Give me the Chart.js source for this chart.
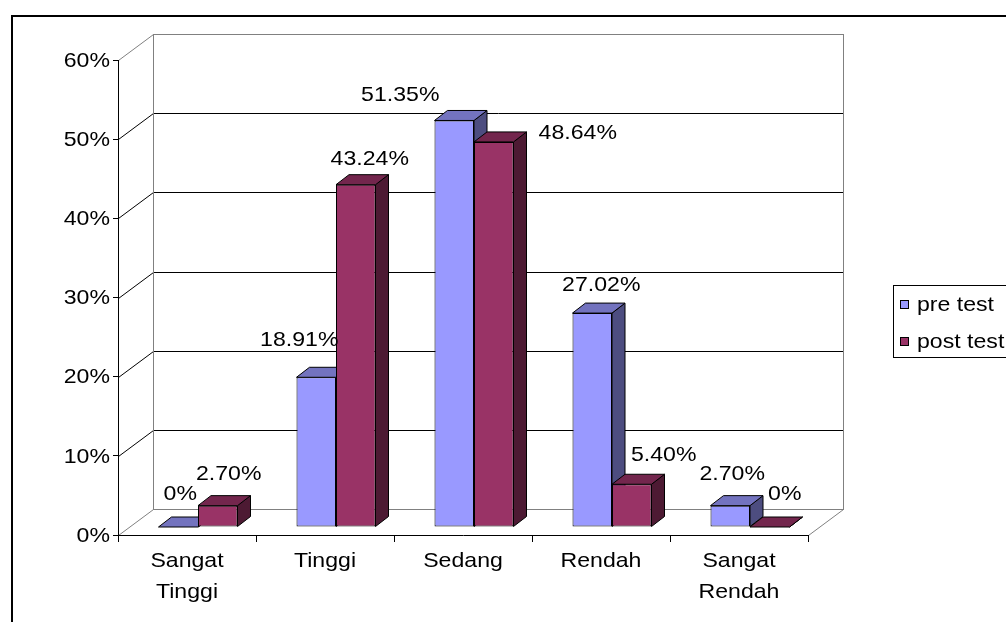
<!DOCTYPE html>
<html>
<head>
<meta charset="utf-8">
<script src="https://cdn.jsdelivr.net/npm/chart.js@4.4.1/dist/chart.umd.min.js"></script>
<style>
  html, body { margin: 0; padding: 0; background: #fff; overflow: hidden; }
  canvas { display: block; }
</style>
</head>
<body>
<canvas id="c" width="1006" height="622"></canvas>
<script>
// ---- data ----
const categories = [['Sangat', 'Tinggi'], 'Tinggi', 'Sedang', 'Rendah', ['Sangat', 'Rendah']];
const seriesNames = ['pre test', 'post test'];
const preTest = [0, 18.91, 51.35, 27.02, 2.70];
const postTest = [2.70, 43.24, 48.64, 5.40, 0];
const yTicks = [0, 10, 20, 30, 40, 50, 60];

// ---- look ----
const FONT = '"Liberation Sans", Arial, sans-serif';
const FONT_SIZE = 21;
const TEXT_STRETCH = 1.1;                // the lettering is drawn slightly wide
const seriesColors = [
  { front: '#9999FF', top: '#7373BF', side: '#4D4D80' },
  { front: '#993366', top: '#73264D', side: '#4D1A33' }
];
const WALL = { dx: 35, dy: -26 };       // depth of the back wall from the front axis plane
const BAR_PLANE = { dx: 11, dy: -8 };   // bars stand a little behind the front axis plane
const BAR_DEPTH = { dx: 13, dy: -10 };  // thickness of each 3-D bar
// where each value label sits, relative to the top-front centre of its bar
const labelOffsets = [
  [[2, -33], [-17, -37], [-54, -25], [9, -28], [2, -31]],
  [[11, -31], [14, -25], [84, -9], [32, -29], [15, -33]]
];

const pct = v => (v === 0 ? '0' : v.toFixed(2)) + '%';

function poly(ctx, pts, fill) {
  ctx.beginPath();
  ctx.moveTo(pts[0][0], pts[0][1]);
  for (let i = 1; i < pts.length; i++) ctx.lineTo(pts[i][0], pts[i][1]);
  ctx.closePath();
  ctx.fillStyle = fill;
  ctx.fill();
  ctx.stroke();
}

function wideText(ctx, str, x, y, align) {
  ctx.save();
  ctx.translate(x, y);
  ctx.scale(TEXT_STRETCH, 1);
  ctx.textAlign = align;
  ctx.fillText(str, 0, 0);
  ctx.restore();
}

// back wall, side wall and floor behind the bars
const wallsPlugin = {
  id: 'walls',
  beforeDraw(chart) {
    const { ctx, chartArea: a, scales: { y } } = chart;
    const L = a.left + 0.5, R = a.right + 0.5, T = Math.round(a.top) + 0.5, B = Math.round(a.bottom) + 0.5;
    ctx.save();
    ctx.lineWidth = 1;
    ctx.strokeStyle = '#000';
    yTicks.forEach(v => {
      if (v <= y.min || v >= y.max) return;
      const py = Math.round(y.getPixelForValue(v)) + 0.5;
      ctx.beginPath();
      ctx.moveTo(L, py);
      ctx.lineTo(L + WALL.dx, py + WALL.dy);
      ctx.lineTo(R + WALL.dx, py + WALL.dy);
      ctx.stroke();
    });
    ctx.strokeStyle = '#808080';
    ctx.strokeRect(L + WALL.dx, T + WALL.dy, R - L, B - T);
    ctx.beginPath();
    ctx.moveTo(L, T); ctx.lineTo(L + WALL.dx, T + WALL.dy);
    ctx.moveTo(L, B); ctx.lineTo(L + WALL.dx, B + WALL.dy);
    ctx.moveTo(R, B); ctx.lineTo(R + WALL.dx, B + WALL.dy);
    ctx.stroke();
    ctx.restore();
  }
};

// top and side faces of the bars, then shift the bar fronts into their plane
const barsPlugin = {
  id: 'bars3d',
  beforeDatasetsDraw(chart) {
    const ctx = chart.ctx;
    ctx.save();
    ctx.lineWidth = 1;
    ctx.strokeStyle = '#000';
    ctx.lineJoin = 'round';
    chart.data.datasets.forEach((ds, i) => {
      const c = seriesColors[i];
      chart.getDatasetMeta(i).data.forEach(bar => {
        const { x, y, base, width } = bar.getProps(['x', 'y', 'base', 'width'], true);
        const l = x - width / 2 + BAR_PLANE.dx, r = x + width / 2 + BAR_PLANE.dx;
        const t = y + BAR_PLANE.dy, b = base + BAR_PLANE.dy;
        const d = BAR_DEPTH;
        poly(ctx, [[r, t], [r + d.dx, t + d.dy], [r + d.dx, b + d.dy], [r, b]], c.side);
        poly(ctx, [[l, t], [l + d.dx, t + d.dy], [r + d.dx, t + d.dy], [r, t]], c.top);
      });
    });
    ctx.restore();
    ctx.save();
    ctx.translate(BAR_PLANE.dx, BAR_PLANE.dy);
  },
  afterDatasetsDraw(chart) {
    chart.ctx.restore();
  }
};

// axis tick labels, value labels, legend and outer frame
const overlayPlugin = {
  id: 'overlay',
  afterDraw(chart) {
    const { ctx, chartArea: a, scales: { x, y } } = chart;
    ctx.save();
    ctx.font = FONT_SIZE + 'px ' + FONT;
    ctx.fillStyle = '#000';
    ctx.textBaseline = 'middle';

    // y axis labels
    y.ticks.forEach(t => {
      wideText(ctx, t.value + '%', a.left - 8, y.getPixelForValue(t.value) + 1, 'right');
    });
    // category labels
    chart.data.labels.forEach((lab, i) => {
      const lines = Array.isArray(lab) ? lab : [lab];
      const px = x.getPixelForValue(i);
      lines.forEach((s, k) => wideText(ctx, s, px, a.bottom + 26 + k * 31, 'center'));
    });

    // value labels
    chart.data.datasets.forEach((ds, i) => {
      chart.getDatasetMeta(i).data.forEach((bar, j) => {
        const p = bar.getProps(['x', 'y'], true);
        const o = labelOffsets[i][j];
        wideText(ctx, pct(ds.data[j]), p.x + BAR_PLANE.dx + o[0], p.y + BAR_PLANE.dy + o[1], 'center');
      });
    });

    // legend
    ctx.lineWidth = 1;
    ctx.strokeStyle = '#000';
    ctx.strokeRect(893.5, 285.5, 200, 72);
    const rows = [305, 342];
    chart.data.datasets.forEach((ds, i) => {
      const ry = rows[i];
      ctx.fillStyle = ds.backgroundColor;
      ctx.fillRect(900.5, ry - 4.5, 8, 8);
      ctx.strokeRect(900.5, ry - 4.5, 8, 8);
      ctx.fillStyle = '#000';
      wideText(ctx, ds.label, 917, ry, 'left');
    });

    // frame
    ctx.lineWidth = 2;
    ctx.strokeRect(12, 16, 1020, 640);
    ctx.restore();
  }
};

new Chart(document.getElementById('c'), {
  type: 'bar',
  data: {
    labels: categories,
    datasets: [
      { label: seriesNames[0], data: preTest, backgroundColor: seriesColors[0].front },
      { label: seriesNames[1], data: postTest, backgroundColor: seriesColors[1].front }
    ]
  },
  options: {
    responsive: false,
    devicePixelRatio: 1,
    animation: false,
    layout: { padding: { left: 0, top: 60, right: 198, bottom: 0 } },
    datasets: {
      bar: {
        categoryPercentage: 0.5725,
        barPercentage: 1,
        borderColor: '#000',
        borderWidth: 1,
        borderSkipped: false
      }
    },
    plugins: { legend: { display: false }, tooltip: { enabled: false } },
    scales: {
      x: {
        afterFit(s) { s.height = 87; },
        grid: { offset: true, drawOnChartArea: false, drawTicks: true, tickLength: 7, color: '#000' },
        border: { display: true, color: '#000', width: 1 },
        ticks: { display: false, autoSkip: false }
      },
      y: {
        min: 0, max: 60,
        afterFit(s) { s.width = 118; },
        afterBuildTicks(s) { s.ticks = yTicks.map(v => ({ value: v })); },
        grid: { drawOnChartArea: false, drawTicks: true, tickLength: 5, color: '#000' },
        border: { display: true, color: '#000', width: 1 },
        ticks: { display: false }
      }
    }
  },
  plugins: [wallsPlugin, barsPlugin, overlayPlugin]
});
</script>
</body>
</html>
